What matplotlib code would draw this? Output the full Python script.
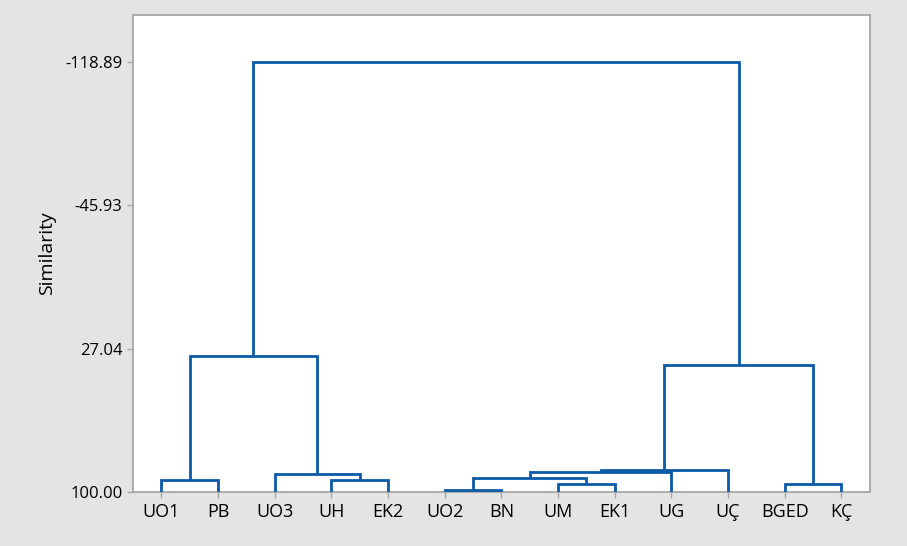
import numpy as np
import matplotlib
matplotlib.use("Agg")
from matplotlib import pyplot as plt

plt.rcParams['font.family'] = ['Open Sans', 'DejaVu Sans']

leaves = ['UO1', 'PB', 'UO3', 'UH', 'EK2', 'UO2', 'BN', 'UM', 'EK1', 'UG', 'UÇ', 'BGED', 'KÇ']
# merge steps: (left node, right node), new node id = 13 + step index
merge_left = [0, 3, 2, 13, 5, 7, 17, 19, 20, 11, 21, 16]
merge_right = [1, 4, 14, 15, 6, 8, 18, 9, 10, 12, 22, 23]
merge_height = [93.9, 93.9, 90.8, 30.8, 99.0, 96.1, 93.0, 90.0, 88.8, 96.1, 35.4, -118.89]
y_ticks = [-118.89, -45.93, 27.04, 100.00]

line_color = '#0a5aa8'
grid_color = '#a6a6a6'
bg = '#e4e4e4'

fig = plt.figure(figsize=(9.07, 5.46), dpi=100, facecolor=bg)
ax = fig.add_axes([0.1466, 0.0989, 0.8124, 0.8736])

n = len(leaves)
node_x = {i: float(i) for i in range(n)}
node_h = {i: 100.0 for i in range(n)}
for k, (a, b, h) in enumerate(zip(merge_left, merge_right, merge_height)):
    xa, xb = node_x[a], node_x[b]
    ax.plot([xa, xa, xb, xb], [node_h[a], h, h, node_h[b]],
            color=line_color, linewidth=2.0, solid_joinstyle='miter',
            solid_capstyle='butt', zorder=3)
    node_x[n + k] = (xa + xb) / 2
    node_h[n + k] = h

ax.set_xlim(-0.5, n - 0.5)
ax.set_ylim(100, -142.8)
ax.set_xticks(range(n))
ax.set_xticklabels(leaves, fontsize=13)
ax.set_yticks(y_ticks)
ax.set_yticklabels(['%.2f' % v for v in y_ticks], fontsize=12)
ax.set_ylabel('Similarity', fontsize=14, labelpad=7)

for s in ax.spines.values():
    s.set_color(grid_color)
    s.set_linewidth(1.3)
ax.tick_params(axis='both', colors=grid_color, length=4, width=1)
ax.tick_params(axis='both', labelcolor='black')
ax.tick_params(axis='x', pad=4)

fig.savefig('out.png', dpi=100, facecolor=bg)
